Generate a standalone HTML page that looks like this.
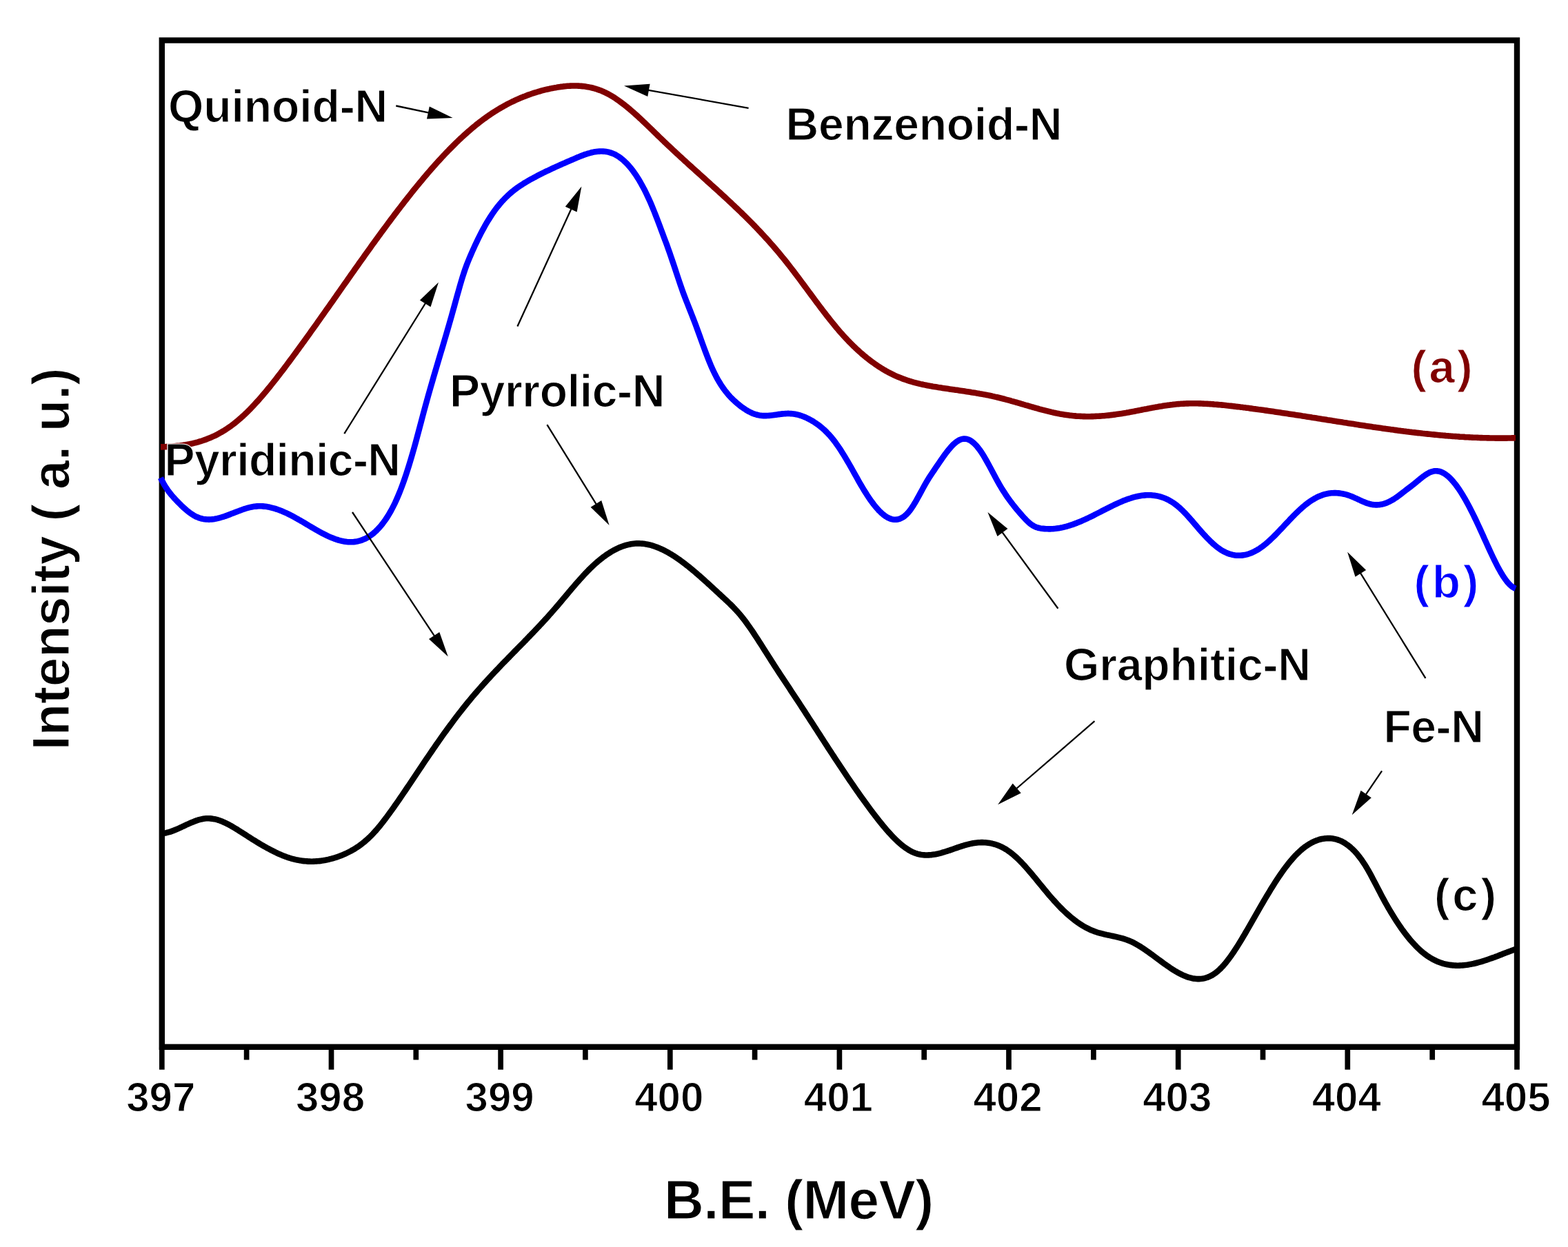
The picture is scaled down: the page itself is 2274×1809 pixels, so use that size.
<!DOCTYPE html><html><head><meta charset="utf-8"><style>html,body{margin:0;padding:0;background:#fff;}svg{display:block;}text{font-family:'Liberation Sans', Arial, Helvetica, sans-serif;font-weight:bold;stroke:#fff;stroke-width:1.2px;}</style></head><body>
<svg xmlns="http://www.w3.org/2000/svg" width="2274" height="1809" viewBox="0 0 2274 1809">
<rect x="0" y="0" width="2274" height="1809" fill="#fff"/>
<rect x="234.8" y="58.5" width="1965.2" height="1460.3" fill="none" stroke="#000" stroke-width="8.4"/>
<line x1="234.8" y1="1519" x2="234.8" y2="1551.7" stroke="#000" stroke-width="7.7"/>
<line x1="357.6" y1="1519" x2="357.6" y2="1537.5" stroke="#000" stroke-width="7.7"/>
<text x="233.3" y="1612" font-size="60" text-anchor="middle">397</text>
<line x1="480.5" y1="1519" x2="480.5" y2="1551.7" stroke="#000" stroke-width="7.7"/>
<line x1="603.3" y1="1519" x2="603.3" y2="1537.5" stroke="#000" stroke-width="7.7"/>
<text x="479.0" y="1612" font-size="60" text-anchor="middle">398</text>
<line x1="726.1" y1="1519" x2="726.1" y2="1551.7" stroke="#000" stroke-width="7.7"/>
<line x1="848.9" y1="1519" x2="848.9" y2="1537.5" stroke="#000" stroke-width="7.7"/>
<text x="724.6" y="1612" font-size="60" text-anchor="middle">399</text>
<line x1="971.8" y1="1519" x2="971.8" y2="1551.7" stroke="#000" stroke-width="7.7"/>
<line x1="1094.6" y1="1519" x2="1094.6" y2="1537.5" stroke="#000" stroke-width="7.7"/>
<text x="970.2" y="1612" font-size="60" text-anchor="middle">400</text>
<line x1="1217.4" y1="1519" x2="1217.4" y2="1551.7" stroke="#000" stroke-width="7.7"/>
<line x1="1340.2" y1="1519" x2="1340.2" y2="1537.5" stroke="#000" stroke-width="7.7"/>
<text x="1215.9" y="1612" font-size="60" text-anchor="middle">401</text>
<line x1="1463.0" y1="1519" x2="1463.0" y2="1551.7" stroke="#000" stroke-width="7.7"/>
<line x1="1585.9" y1="1519" x2="1585.9" y2="1537.5" stroke="#000" stroke-width="7.7"/>
<text x="1461.5" y="1612" font-size="60" text-anchor="middle">402</text>
<line x1="1708.7" y1="1519" x2="1708.7" y2="1551.7" stroke="#000" stroke-width="7.7"/>
<line x1="1831.5" y1="1519" x2="1831.5" y2="1537.5" stroke="#000" stroke-width="7.7"/>
<text x="1707.2" y="1612" font-size="60" text-anchor="middle">403</text>
<line x1="1954.3" y1="1519" x2="1954.3" y2="1551.7" stroke="#000" stroke-width="7.7"/>
<line x1="2077.2" y1="1519" x2="2077.2" y2="1537.5" stroke="#000" stroke-width="7.7"/>
<text x="1952.8" y="1612" font-size="60" text-anchor="middle">404</text>
<line x1="2200.0" y1="1519" x2="2200.0" y2="1551.7" stroke="#000" stroke-width="7.7"/>
<text x="2198.5" y="1612" font-size="60" text-anchor="middle">405</text>
<path d="M233.0,648.4 L235.0,648.4 L237.0,648.3 L239.0,648.2 L241.0,648.1 L243.0,648.0 L245.0,647.9 L247.0,647.8 L249.0,647.7 L251.0,647.5 L253.0,647.3 L255.0,647.1 L257.0,646.9 L259.0,646.7 L261.0,646.5 L263.0,646.2 L265.0,645.9 L267.0,645.6 L269.0,645.3 L271.0,644.9 L273.0,644.6 L275.0,644.2 L277.0,643.8 L279.0,643.3 L281.0,642.8 L283.0,642.4 L285.0,641.8 L287.0,641.3 L289.0,640.7 L291.0,640.1 L293.0,639.5 L295.0,638.8 L297.0,638.1 L299.0,637.4 L301.0,636.6 L303.0,635.8 L305.0,635.0 L307.0,634.1 L309.0,633.2 L311.0,632.3 L313.0,631.3 L315.0,630.3 L317.0,629.2 L319.0,628.1 L321.0,627.0 L323.0,625.8 L325.0,624.6 L327.0,623.3 L329.0,622.0 L331.0,620.7 L333.0,619.3 L335.0,617.9 L337.0,616.4 L339.0,614.9 L341.0,613.3 L343.0,611.7 L345.0,610.0 L347.0,608.3 L349.0,606.6 L351.0,604.8 L353.0,603.0 L355.0,601.1 L357.0,599.2 L359.0,597.2 L361.0,595.2 L363.0,593.2 L365.0,591.1 L367.0,589.0 L369.0,586.9 L371.0,584.7 L373.0,582.5 L375.0,580.3 L377.0,578.0 L379.0,575.7 L381.0,573.4 L383.0,571.0 L385.0,568.7 L387.0,566.3 L389.0,563.8 L391.0,561.4 L393.0,558.9 L395.0,556.4 L397.0,553.9 L399.0,551.4 L401.0,548.8 L403.0,546.2 L405.0,543.6 L407.0,541.0 L409.0,538.4 L411.0,535.8 L413.0,533.1 L415.0,530.5 L417.0,527.8 L419.0,525.1 L421.0,522.4 L423.0,519.7 L425.0,517.0 L427.0,514.3 L429.0,511.6 L431.0,508.8 L433.0,506.1 L435.0,503.3 L437.0,500.6 L439.0,497.8 L441.0,495.1 L443.0,492.3 L445.0,489.5 L447.0,486.7 L449.0,483.9 L451.0,481.1 L453.0,478.3 L455.0,475.5 L457.0,472.7 L459.0,469.9 L461.0,467.1 L463.0,464.3 L465.0,461.4 L467.0,458.6 L469.0,455.8 L471.0,452.9 L473.0,450.1 L475.0,447.2 L477.0,444.4 L479.0,441.6 L481.0,438.7 L483.0,435.9 L485.0,433.0 L487.0,430.2 L489.0,427.3 L491.0,424.5 L493.0,421.6 L495.0,418.8 L497.0,415.9 L499.0,413.1 L501.0,410.2 L503.0,407.4 L505.0,404.5 L507.0,401.7 L509.0,398.8 L511.0,396.0 L513.0,393.2 L515.0,390.3 L517.0,387.5 L519.0,384.7 L521.0,381.8 L523.0,379.0 L525.0,376.2 L527.0,373.4 L529.0,370.6 L531.0,367.8 L533.0,365.0 L535.0,362.2 L537.0,359.4 L539.0,356.6 L541.0,353.8 L543.0,351.1 L545.0,348.3 L547.0,345.6 L549.0,342.8 L551.0,340.1 L553.0,337.3 L555.0,334.6 L557.0,331.9 L559.0,329.2 L561.0,326.5 L563.0,323.8 L565.0,321.1 L567.0,318.4 L569.0,315.7 L571.0,313.1 L573.0,310.4 L575.0,307.8 L577.0,305.2 L579.0,302.6 L581.0,300.0 L583.0,297.4 L585.0,294.8 L587.0,292.2 L589.0,289.7 L591.0,287.1 L593.0,284.6 L595.0,282.1 L597.0,279.5 L599.0,277.0 L601.0,274.6 L603.0,272.1 L605.0,269.6 L607.0,267.2 L609.0,264.8 L611.0,262.4 L613.0,260.0 L615.0,257.6 L617.0,255.2 L619.0,252.9 L621.0,250.5 L623.0,248.2 L625.0,245.9 L627.0,243.6 L629.0,241.4 L631.0,239.1 L633.0,236.9 L635.0,234.7 L637.0,232.5 L639.0,230.3 L641.0,228.1 L643.0,226.0 L645.0,223.9 L647.0,221.8 L649.0,219.7 L651.0,217.6 L653.0,215.6 L655.0,213.6 L657.0,211.6 L659.0,209.6 L661.0,207.6 L663.0,205.7 L665.0,203.7 L667.0,201.8 L669.0,200.0 L671.0,198.1 L673.0,196.3 L675.0,194.5 L677.0,192.7 L679.0,190.9 L681.0,189.2 L683.0,187.5 L685.0,185.8 L687.0,184.1 L689.0,182.5 L691.0,180.8 L693.0,179.3 L695.0,177.7 L697.0,176.1 L699.0,174.6 L701.0,173.1 L703.0,171.7 L705.0,170.2 L707.0,168.8 L709.0,167.4 L711.0,166.1 L713.0,164.7 L715.0,163.4 L717.0,162.1 L719.0,160.9 L721.0,159.6 L723.0,158.4 L725.0,157.2 L727.0,156.0 L729.0,154.9 L731.0,153.8 L733.0,152.7 L735.0,151.6 L737.0,150.5 L739.0,149.5 L741.0,148.5 L743.0,147.5 L745.0,146.6 L747.0,145.6 L749.0,144.7 L751.0,143.8 L753.0,142.9 L755.0,142.1 L757.0,141.3 L759.0,140.4 L761.0,139.7 L763.0,138.9 L765.0,138.1 L767.0,137.4 L769.0,136.7 L771.0,136.0 L773.0,135.3 L775.0,134.7 L777.0,134.1 L779.0,133.5 L781.0,132.9 L783.0,132.3 L785.0,131.7 L787.0,131.2 L789.0,130.7 L791.0,130.2 L793.0,129.7 L795.0,129.3 L797.0,128.8 L799.0,128.4 L801.0,128.0 L803.0,127.6 L805.0,127.2 L807.0,126.9 L809.0,126.5 L811.0,126.2 L813.0,125.9 L815.0,125.7 L817.0,125.4 L819.0,125.2 L821.0,125.0 L823.0,124.8 L825.0,124.7 L827.0,124.6 L829.0,124.5 L831.0,124.5 L833.0,124.5 L835.0,124.5 L837.0,124.5 L839.0,124.6 L841.0,124.7 L843.0,124.9 L845.0,125.1 L847.0,125.3 L849.0,125.6 L851.0,125.9 L853.0,126.2 L855.0,126.6 L857.0,127.0 L859.0,127.5 L861.0,128.0 L863.0,128.6 L865.0,129.2 L867.0,129.9 L869.0,130.6 L871.0,131.3 L873.0,132.1 L875.0,133.0 L877.0,133.9 L879.0,134.9 L881.0,135.9 L883.0,136.9 L885.0,138.1 L887.0,139.2 L889.0,140.4 L891.0,141.7 L893.0,143.0 L895.0,144.4 L897.0,145.8 L899.0,147.2 L901.0,148.7 L903.0,150.2 L905.0,151.7 L907.0,153.3 L909.0,154.9 L911.0,156.6 L913.0,158.2 L915.0,160.0 L917.0,161.7 L919.0,163.4 L921.0,165.2 L923.0,167.0 L925.0,168.8 L927.0,170.7 L929.0,172.5 L931.0,174.4 L933.0,176.3 L935.0,178.2 L937.0,180.1 L939.0,182.0 L941.0,184.0 L943.0,185.9 L945.0,187.8 L947.0,189.8 L949.0,191.7 L951.0,193.7 L953.0,195.6 L955.0,197.6 L957.0,199.5 L959.0,201.4 L961.0,203.3 L963.0,205.3 L965.0,207.2 L967.0,209.1 L969.0,211.0 L971.0,212.8 L973.0,214.7 L975.0,216.6 L977.0,218.5 L979.0,220.3 L981.0,222.2 L983.0,224.0 L985.0,225.9 L987.0,227.7 L989.0,229.5 L991.0,231.4 L993.0,233.2 L995.0,235.0 L997.0,236.9 L999.0,238.7 L1001.0,240.5 L1003.0,242.3 L1005.0,244.1 L1007.0,245.9 L1009.0,247.7 L1011.0,249.5 L1013.0,251.3 L1015.0,253.1 L1017.0,254.9 L1019.0,256.7 L1021.0,258.5 L1023.0,260.3 L1025.0,262.2 L1027.0,264.0 L1029.0,265.8 L1031.0,267.6 L1033.0,269.4 L1035.0,271.2 L1037.0,273.0 L1039.0,274.8 L1041.0,276.6 L1043.0,278.5 L1045.0,280.3 L1047.0,282.1 L1049.0,284.0 L1051.0,285.8 L1053.0,287.6 L1055.0,289.5 L1057.0,291.4 L1059.0,293.2 L1061.0,295.1 L1063.0,297.0 L1065.0,298.9 L1067.0,300.8 L1069.0,302.7 L1071.0,304.6 L1073.0,306.5 L1075.0,308.4 L1077.0,310.4 L1079.0,312.3 L1081.0,314.3 L1083.0,316.3 L1085.0,318.3 L1087.0,320.3 L1089.0,322.3 L1091.0,324.3 L1093.0,326.4 L1095.0,328.4 L1097.0,330.5 L1099.0,332.6 L1101.0,334.7 L1103.0,336.8 L1105.0,339.0 L1107.0,341.1 L1109.0,343.3 L1111.0,345.5 L1113.0,347.7 L1115.0,349.9 L1117.0,352.2 L1119.0,354.5 L1121.0,356.7 L1123.0,359.1 L1125.0,361.4 L1127.0,363.7 L1129.0,366.1 L1131.0,368.5 L1133.0,370.9 L1135.0,373.4 L1137.0,375.8 L1139.0,378.3 L1141.0,380.8 L1143.0,383.4 L1145.0,385.9 L1147.0,388.5 L1149.0,391.1 L1151.0,393.7 L1153.0,396.3 L1155.0,399.0 L1157.0,401.6 L1159.0,404.3 L1161.0,407.0 L1163.0,409.7 L1165.0,412.4 L1167.0,415.1 L1169.0,417.8 L1171.0,420.5 L1173.0,423.2 L1175.0,425.9 L1177.0,428.6 L1179.0,431.3 L1181.0,434.0 L1183.0,436.7 L1185.0,439.4 L1187.0,442.0 L1189.0,444.7 L1191.0,447.4 L1193.0,450.0 L1195.0,452.6 L1197.0,455.2 L1199.0,457.8 L1201.0,460.3 L1203.0,462.9 L1205.0,465.4 L1207.0,467.9 L1209.0,470.3 L1211.0,472.8 L1213.0,475.2 L1215.0,477.5 L1217.0,479.9 L1219.0,482.2 L1221.0,484.4 L1223.0,486.7 L1225.0,488.9 L1227.0,491.0 L1229.0,493.1 L1231.0,495.2 L1233.0,497.3 L1235.0,499.3 L1237.0,501.3 L1239.0,503.2 L1241.0,505.1 L1243.0,507.0 L1245.0,508.8 L1247.0,510.6 L1249.0,512.4 L1251.0,514.1 L1253.0,515.8 L1255.0,517.4 L1257.0,519.1 L1259.0,520.6 L1261.0,522.2 L1263.0,523.7 L1265.0,525.2 L1267.0,526.6 L1269.0,528.1 L1271.0,529.4 L1273.0,530.8 L1275.0,532.1 L1277.0,533.4 L1279.0,534.6 L1281.0,535.9 L1283.0,537.0 L1285.0,538.2 L1287.0,539.3 L1289.0,540.4 L1291.0,541.4 L1293.0,542.4 L1295.0,543.4 L1297.0,544.4 L1299.0,545.3 L1301.0,546.2 L1303.0,547.0 L1305.0,547.8 L1307.0,548.6 L1309.0,549.4 L1311.0,550.1 L1313.0,550.8 L1315.0,551.5 L1317.0,552.2 L1319.0,552.8 L1321.0,553.4 L1323.0,554.0 L1325.0,554.6 L1327.0,555.1 L1329.0,555.6 L1331.0,556.1 L1333.0,556.6 L1335.0,557.1 L1337.0,557.5 L1339.0,558.0 L1341.0,558.4 L1343.0,558.8 L1345.0,559.2 L1347.0,559.6 L1349.0,559.9 L1351.0,560.3 L1353.0,560.7 L1355.0,561.0 L1357.0,561.3 L1359.0,561.6 L1361.0,562.0 L1363.0,562.3 L1365.0,562.6 L1367.0,562.9 L1369.0,563.2 L1371.0,563.5 L1373.0,563.8 L1375.0,564.1 L1377.0,564.4 L1379.0,564.7 L1381.0,565.0 L1383.0,565.3 L1385.0,565.6 L1387.0,565.8 L1389.0,566.1 L1391.0,566.4 L1393.0,566.7 L1395.0,567.0 L1397.0,567.3 L1399.0,567.6 L1401.0,567.9 L1403.0,568.2 L1405.0,568.5 L1407.0,568.8 L1409.0,569.2 L1411.0,569.5 L1413.0,569.8 L1415.0,570.1 L1417.0,570.5 L1419.0,570.8 L1421.0,571.2 L1423.0,571.5 L1425.0,571.9 L1427.0,572.3 L1429.0,572.6 L1431.0,573.0 L1433.0,573.4 L1435.0,573.8 L1437.0,574.2 L1439.0,574.7 L1441.0,575.1 L1443.0,575.6 L1445.0,576.0 L1447.0,576.5 L1449.0,577.0 L1451.0,577.5 L1453.0,578.0 L1455.0,578.5 L1457.0,579.0 L1459.0,579.6 L1461.0,580.1 L1463.0,580.6 L1465.0,581.2 L1467.0,581.8 L1469.0,582.3 L1471.0,582.9 L1473.0,583.5 L1475.0,584.0 L1477.0,584.6 L1479.0,585.2 L1481.0,585.8 L1483.0,586.4 L1485.0,587.0 L1487.0,587.6 L1489.0,588.1 L1491.0,588.7 L1493.0,589.3 L1495.0,589.9 L1497.0,590.5 L1499.0,591.0 L1501.0,591.6 L1503.0,592.2 L1505.0,592.7 L1507.0,593.3 L1509.0,593.8 L1511.0,594.4 L1513.0,594.9 L1515.0,595.4 L1517.0,595.9 L1519.0,596.4 L1521.0,596.9 L1523.0,597.4 L1525.0,597.9 L1527.0,598.3 L1529.0,598.8 L1531.0,599.2 L1533.0,599.6 L1535.0,600.0 L1537.0,600.4 L1539.0,600.7 L1541.0,601.1 L1543.0,601.4 L1545.0,601.7 L1547.0,602.0 L1549.0,602.3 L1551.0,602.6 L1553.0,602.8 L1555.0,603.0 L1557.0,603.2 L1559.0,603.4 L1561.0,603.6 L1563.0,603.7 L1565.0,603.8 L1567.0,603.9 L1569.0,604.0 L1571.0,604.1 L1573.0,604.1 L1575.0,604.2 L1577.0,604.2 L1579.0,604.2 L1581.0,604.2 L1583.0,604.1 L1585.0,604.1 L1587.0,604.0 L1589.0,603.9 L1591.0,603.8 L1593.0,603.7 L1595.0,603.6 L1597.0,603.5 L1599.0,603.3 L1601.0,603.2 L1603.0,603.0 L1605.0,602.8 L1607.0,602.6 L1609.0,602.4 L1611.0,602.1 L1613.0,601.9 L1615.0,601.6 L1617.0,601.4 L1619.0,601.1 L1621.0,600.8 L1623.0,600.5 L1625.0,600.2 L1627.0,599.9 L1629.0,599.6 L1631.0,599.2 L1633.0,598.9 L1635.0,598.5 L1637.0,598.2 L1639.0,597.8 L1641.0,597.4 L1643.0,597.1 L1645.0,596.7 L1647.0,596.3 L1649.0,595.9 L1651.0,595.5 L1653.0,595.1 L1655.0,594.7 L1657.0,594.3 L1659.0,593.9 L1661.0,593.5 L1663.0,593.2 L1665.0,592.8 L1667.0,592.4 L1669.0,592.0 L1671.0,591.6 L1673.0,591.3 L1675.0,590.9 L1677.0,590.5 L1679.0,590.2 L1681.0,589.8 L1683.0,589.5 L1685.0,589.2 L1687.0,588.8 L1689.0,588.5 L1691.0,588.2 L1693.0,587.9 L1695.0,587.7 L1697.0,587.4 L1699.0,587.2 L1701.0,586.9 L1703.0,586.7 L1705.0,586.5 L1707.0,586.3 L1709.0,586.1 L1711.0,586.0 L1713.0,585.8 L1715.0,585.7 L1717.0,585.6 L1719.0,585.5 L1721.0,585.4 L1723.0,585.4 L1725.0,585.3 L1727.0,585.3 L1729.0,585.3 L1731.0,585.3 L1733.0,585.3 L1735.0,585.3 L1737.0,585.3 L1739.0,585.4 L1741.0,585.4 L1743.0,585.5 L1745.0,585.6 L1747.0,585.7 L1749.0,585.8 L1751.0,585.9 L1753.0,586.0 L1755.0,586.1 L1757.0,586.3 L1759.0,586.4 L1761.0,586.6 L1763.0,586.7 L1765.0,586.9 L1767.0,587.1 L1769.0,587.3 L1771.0,587.4 L1773.0,587.6 L1775.0,587.8 L1777.0,588.0 L1779.0,588.3 L1781.0,588.5 L1783.0,588.7 L1785.0,588.9 L1787.0,589.1 L1789.0,589.4 L1791.0,589.6 L1793.0,589.9 L1795.0,590.1 L1797.0,590.3 L1799.0,590.6 L1801.0,590.8 L1803.0,591.1 L1805.0,591.3 L1807.0,591.6 L1809.0,591.8 L1811.0,592.1 L1813.0,592.4 L1815.0,592.6 L1817.0,592.9 L1819.0,593.2 L1821.0,593.4 L1823.0,593.7 L1825.0,594.0 L1827.0,594.2 L1829.0,594.5 L1831.0,594.8 L1833.0,595.1 L1835.0,595.4 L1837.0,595.6 L1839.0,595.9 L1841.0,596.2 L1843.0,596.5 L1845.0,596.8 L1847.0,597.1 L1849.0,597.4 L1851.0,597.7 L1853.0,598.0 L1855.0,598.3 L1857.0,598.6 L1859.0,598.9 L1861.0,599.2 L1863.0,599.5 L1865.0,599.8 L1867.0,600.1 L1869.0,600.4 L1871.0,600.7 L1873.0,601.0 L1875.0,601.3 L1877.0,601.6 L1879.0,601.9 L1881.0,602.2 L1883.0,602.5 L1885.0,602.8 L1887.0,603.1 L1889.0,603.5 L1891.0,603.8 L1893.0,604.1 L1895.0,604.4 L1897.0,604.7 L1899.0,605.0 L1901.0,605.3 L1903.0,605.7 L1905.0,606.0 L1907.0,606.3 L1909.0,606.6 L1911.0,606.9 L1913.0,607.2 L1915.0,607.6 L1917.0,607.9 L1919.0,608.2 L1921.0,608.5 L1923.0,608.8 L1925.0,609.2 L1927.0,609.5 L1929.0,609.8 L1931.0,610.1 L1933.0,610.4 L1935.0,610.7 L1937.0,611.1 L1939.0,611.4 L1941.0,611.7 L1943.0,612.0 L1945.0,612.3 L1947.0,612.6 L1949.0,613.0 L1951.0,613.3 L1953.0,613.6 L1955.0,613.9 L1957.0,614.2 L1959.0,614.5 L1961.0,614.8 L1963.0,615.1 L1965.0,615.4 L1967.0,615.8 L1969.0,616.1 L1971.0,616.4 L1973.0,616.7 L1975.0,617.0 L1977.0,617.3 L1979.0,617.6 L1981.0,617.9 L1983.0,618.2 L1985.0,618.5 L1987.0,618.8 L1989.0,619.1 L1991.0,619.4 L1993.0,619.7 L1995.0,619.9 L1997.0,620.2 L1999.0,620.5 L2001.0,620.8 L2003.0,621.1 L2005.0,621.4 L2007.0,621.7 L2009.0,621.9 L2011.0,622.2 L2013.0,622.5 L2015.0,622.8 L2017.0,623.1 L2019.0,623.3 L2021.0,623.6 L2023.0,623.9 L2025.0,624.1 L2027.0,624.4 L2029.0,624.7 L2031.0,624.9 L2033.0,625.2 L2035.0,625.4 L2037.0,625.7 L2039.0,625.9 L2041.0,626.2 L2043.0,626.4 L2045.0,626.7 L2047.0,626.9 L2049.0,627.2 L2051.0,627.4 L2053.0,627.6 L2055.0,627.9 L2057.0,628.1 L2059.0,628.3 L2061.0,628.5 L2063.0,628.8 L2065.0,629.0 L2067.0,629.2 L2069.0,629.4 L2071.0,629.6 L2073.0,629.8 L2075.0,630.0 L2077.0,630.2 L2079.0,630.4 L2081.0,630.6 L2083.0,630.8 L2085.0,631.0 L2087.0,631.2 L2089.0,631.4 L2091.0,631.5 L2093.0,631.7 L2095.0,631.9 L2097.0,632.1 L2099.0,632.2 L2101.0,632.4 L2103.0,632.5 L2105.0,632.7 L2107.0,632.9 L2109.0,633.0 L2111.0,633.1 L2113.0,633.3 L2115.0,633.4 L2117.0,633.6 L2119.0,633.7 L2121.0,633.8 L2123.0,633.9 L2125.0,634.1 L2127.0,634.2 L2129.0,634.3 L2131.0,634.4 L2133.0,634.5 L2135.0,634.6 L2137.0,634.7 L2139.0,634.8 L2141.0,634.8 L2143.0,634.9 L2145.0,635.0 L2147.0,635.1 L2149.0,635.1 L2151.0,635.2 L2153.0,635.3 L2155.0,635.3 L2157.0,635.4 L2159.0,635.4 L2161.0,635.5 L2163.0,635.5 L2165.0,635.5 L2167.0,635.5 L2169.0,635.6 L2171.0,635.6 L2173.0,635.6 L2175.0,635.6 L2177.0,635.6 L2179.0,635.6 L2181.0,635.6 L2183.0,635.6 L2185.0,635.6 L2187.0,635.5 L2189.0,635.5 L2191.0,635.5 L2193.0,635.4 L2195.0,635.4 L2197.0,635.3 L2198.0,635.3" fill="none" stroke="#800000" stroke-width="8.6" stroke-linejoin="round"/>
<path d="M233.0,693.1 L235.0,697.3 L237.0,701.1 L239.0,704.5 L241.0,707.7 L243.0,710.7 L245.0,713.5 L247.0,716.0 L249.0,718.5 L251.0,720.8 L253.0,723.0 L255.0,725.1 L257.0,727.2 L259.0,729.3 L261.0,731.3 L263.0,733.3 L265.0,735.2 L267.0,737.0 L269.0,738.8 L271.0,740.5 L273.0,742.1 L275.0,743.7 L277.0,745.1 L279.0,746.4 L281.0,747.7 L283.0,748.8 L285.0,749.8 L287.0,750.6 L289.0,751.4 L291.0,752.0 L293.0,752.5 L295.0,752.9 L297.0,753.2 L299.0,753.4 L301.0,753.5 L303.0,753.6 L305.0,753.5 L307.0,753.4 L309.0,753.2 L311.0,752.9 L313.0,752.5 L315.0,752.1 L317.0,751.6 L319.0,751.1 L321.0,750.5 L323.0,749.9 L325.0,749.3 L327.0,748.6 L329.0,747.9 L331.0,747.1 L333.0,746.4 L335.0,745.6 L337.0,744.8 L339.0,744.1 L341.0,743.3 L343.0,742.5 L345.0,741.7 L347.0,741.0 L349.0,740.2 L351.0,739.5 L353.0,738.8 L355.0,738.1 L357.0,737.5 L359.0,736.9 L361.0,736.4 L363.0,735.9 L365.0,735.5 L367.0,735.1 L369.0,734.8 L371.0,734.6 L373.0,734.4 L375.0,734.3 L377.0,734.3 L379.0,734.3 L381.0,734.4 L383.0,734.6 L385.0,734.8 L387.0,735.1 L389.0,735.4 L391.0,735.8 L393.0,736.3 L395.0,736.8 L397.0,737.3 L399.0,737.9 L401.0,738.6 L403.0,739.3 L405.0,740.0 L407.0,740.8 L409.0,741.6 L411.0,742.4 L413.0,743.3 L415.0,744.2 L417.0,745.1 L419.0,746.1 L421.0,747.1 L423.0,748.2 L425.0,749.2 L427.0,750.3 L429.0,751.4 L431.0,752.5 L433.0,753.7 L435.0,754.8 L437.0,756.0 L439.0,757.1 L441.0,758.3 L443.0,759.5 L445.0,760.7 L447.0,761.9 L449.0,763.1 L451.0,764.3 L453.0,765.5 L455.0,766.6 L457.0,767.8 L459.0,768.9 L461.0,770.1 L463.0,771.2 L465.0,772.3 L467.0,773.4 L469.0,774.4 L471.0,775.4 L473.0,776.4 L475.0,777.4 L477.0,778.3 L479.0,779.2 L481.0,780.0 L483.0,780.8 L485.0,781.6 L487.0,782.3 L489.0,782.9 L491.0,783.6 L493.0,784.1 L495.0,784.6 L497.0,785.1 L499.0,785.4 L501.0,785.7 L503.0,786.0 L505.0,786.2 L507.0,786.3 L509.0,786.3 L511.0,786.2 L513.0,786.1 L515.0,785.9 L517.0,785.6 L519.0,785.2 L521.0,784.7 L523.0,784.1 L525.0,783.4 L527.0,782.6 L529.0,781.8 L531.0,780.8 L533.0,779.7 L535.0,778.4 L537.0,777.1 L539.0,775.7 L541.0,774.1 L543.0,772.4 L545.0,770.6 L547.0,768.6 L549.0,766.5 L551.0,764.3 L553.0,762.0 L555.0,759.5 L557.0,756.8 L559.0,754.0 L561.0,751.0 L563.0,747.9 L565.0,744.5 L567.0,741.0 L569.0,737.3 L571.0,733.4 L573.0,729.3 L575.0,724.9 L577.0,720.3 L579.0,715.5 L581.0,710.5 L583.0,705.2 L585.0,699.7 L587.0,694.0 L589.0,688.1 L591.0,681.9 L593.0,675.6 L595.0,669.1 L597.0,662.3 L599.0,655.4 L601.0,648.4 L603.0,641.1 L605.0,633.7 L607.0,626.2 L609.0,618.7 L611.0,611.1 L613.0,603.5 L615.0,596.0 L617.0,588.6 L619.0,581.4 L621.0,574.2 L623.0,567.1 L625.0,560.1 L627.0,553.2 L629.0,546.3 L631.0,539.5 L633.0,532.8 L635.0,526.1 L637.0,519.3 L639.0,512.6 L641.0,505.9 L643.0,499.2 L645.0,492.4 L647.0,485.6 L649.0,478.8 L651.0,471.9 L653.0,464.9 L655.0,457.9 L657.0,450.7 L659.0,443.5 L661.0,436.2 L663.0,428.9 L665.0,421.8 L667.0,414.7 L669.0,407.9 L671.0,401.3 L673.0,395.1 L675.0,389.2 L677.0,383.8 L679.0,378.7 L681.0,373.9 L683.0,369.2 L685.0,364.6 L687.0,360.2 L689.0,355.8 L691.0,351.6 L693.0,347.4 L695.0,343.4 L697.0,339.4 L699.0,335.6 L701.0,331.9 L703.0,328.2 L705.0,324.7 L707.0,321.3 L709.0,318.1 L711.0,314.9 L713.0,311.8 L715.0,308.9 L717.0,306.0 L719.0,303.3 L721.0,300.7 L723.0,298.2 L725.0,295.8 L727.0,293.4 L729.0,291.2 L731.0,289.1 L733.0,287.0 L735.0,285.1 L737.0,283.2 L739.0,281.3 L741.0,279.6 L743.0,277.9 L745.0,276.3 L747.0,274.8 L749.0,273.3 L751.0,271.8 L753.0,270.4 L755.0,269.1 L757.0,267.8 L759.0,266.5 L761.0,265.3 L763.0,264.1 L765.0,262.9 L767.0,261.7 L769.0,260.6 L771.0,259.5 L773.0,258.4 L775.0,257.3 L777.0,256.3 L779.0,255.2 L781.0,254.2 L783.0,253.2 L785.0,252.1 L787.0,251.1 L789.0,250.2 L791.0,249.2 L793.0,248.2 L795.0,247.3 L797.0,246.3 L799.0,245.4 L801.0,244.4 L803.0,243.5 L805.0,242.6 L807.0,241.7 L809.0,240.8 L811.0,239.9 L813.0,239.0 L815.0,238.1 L817.0,237.2 L819.0,236.4 L821.0,235.5 L823.0,234.6 L825.0,233.8 L827.0,232.9 L829.0,232.0 L831.0,231.2 L833.0,230.3 L835.0,229.4 L837.0,228.6 L839.0,227.8 L841.0,226.9 L843.0,226.1 L845.0,225.4 L847.0,224.6 L849.0,223.9 L851.0,223.3 L853.0,222.6 L855.0,222.1 L857.0,221.5 L859.0,221.0 L861.0,220.6 L863.0,220.3 L865.0,220.0 L867.0,219.7 L869.0,219.6 L871.0,219.5 L873.0,219.5 L875.0,219.6 L877.0,219.7 L879.0,220.0 L881.0,220.4 L883.0,220.8 L885.0,221.4 L887.0,222.1 L889.0,222.8 L891.0,223.7 L893.0,224.7 L895.0,225.9 L897.0,227.1 L899.0,228.5 L901.0,230.0 L903.0,231.6 L905.0,233.4 L907.0,235.3 L909.0,237.3 L911.0,239.4 L913.0,241.7 L915.0,244.1 L917.0,246.7 L919.0,249.4 L921.0,252.2 L923.0,255.2 L925.0,258.3 L927.0,261.6 L929.0,265.0 L931.0,268.6 L933.0,272.3 L935.0,276.1 L937.0,280.1 L939.0,284.3 L941.0,288.6 L943.0,293.1 L945.0,297.8 L947.0,302.6 L949.0,307.5 L951.0,312.6 L953.0,317.8 L955.0,323.0 L957.0,328.3 L959.0,333.7 L961.0,339.0 L963.0,344.4 L965.0,349.7 L967.0,355.1 L969.0,360.7 L971.0,366.3 L973.0,372.1 L975.0,378.0 L977.0,383.9 L979.0,389.9 L981.0,396.0 L983.0,402.0 L985.0,408.0 L987.0,413.9 L989.0,419.6 L991.0,425.2 L993.0,430.5 L995.0,435.7 L997.0,440.8 L999.0,445.8 L1001.0,450.9 L1003.0,456.0 L1005.0,461.1 L1007.0,466.3 L1009.0,471.6 L1011.0,477.0 L1013.0,482.5 L1015.0,488.0 L1017.0,493.6 L1019.0,499.1 L1021.0,504.6 L1023.0,510.0 L1025.0,515.3 L1027.0,520.4 L1029.0,525.4 L1031.0,530.2 L1033.0,534.7 L1035.0,539.0 L1037.0,543.1 L1039.0,546.9 L1041.0,550.6 L1043.0,554.0 L1045.0,557.3 L1047.0,560.3 L1049.0,563.2 L1051.0,566.0 L1053.0,568.6 L1055.0,571.0 L1057.0,573.4 L1059.0,575.6 L1061.0,577.7 L1063.0,579.6 L1065.0,581.5 L1067.0,583.3 L1069.0,585.1 L1071.0,586.7 L1073.0,588.3 L1075.0,589.9 L1077.0,591.3 L1079.0,592.7 L1081.0,594.0 L1083.0,595.3 L1085.0,596.4 L1087.0,597.5 L1089.0,598.5 L1091.0,599.4 L1093.0,600.2 L1095.0,600.9 L1097.0,601.5 L1099.0,602.0 L1101.0,602.4 L1103.0,602.7 L1105.0,603.0 L1107.0,603.1 L1109.0,603.1 L1111.0,603.1 L1113.0,603.0 L1115.0,602.9 L1117.0,602.7 L1119.0,602.5 L1121.0,602.3 L1123.0,602.0 L1125.0,601.7 L1127.0,601.4 L1129.0,601.1 L1131.0,600.9 L1133.0,600.6 L1135.0,600.4 L1137.0,600.2 L1139.0,600.1 L1141.0,600.0 L1143.0,599.9 L1145.0,600.0 L1147.0,600.1 L1149.0,600.3 L1151.0,600.5 L1153.0,600.8 L1155.0,601.2 L1157.0,601.7 L1159.0,602.2 L1161.0,602.8 L1163.0,603.5 L1165.0,604.2 L1167.0,605.0 L1169.0,605.9 L1171.0,606.8 L1173.0,607.8 L1175.0,608.9 L1177.0,610.0 L1179.0,611.2 L1181.0,612.5 L1183.0,613.8 L1185.0,615.2 L1187.0,616.6 L1189.0,618.2 L1191.0,619.8 L1193.0,621.5 L1195.0,623.2 L1197.0,625.1 L1199.0,627.1 L1201.0,629.2 L1203.0,631.3 L1205.0,633.6 L1207.0,636.0 L1209.0,638.5 L1211.0,641.1 L1213.0,643.9 L1215.0,646.7 L1217.0,649.6 L1219.0,652.7 L1221.0,655.8 L1223.0,659.0 L1225.0,662.2 L1227.0,665.6 L1229.0,669.0 L1231.0,672.4 L1233.0,675.9 L1235.0,679.4 L1237.0,683.0 L1239.0,686.6 L1241.0,690.1 L1243.0,693.7 L1245.0,697.3 L1247.0,700.8 L1249.0,704.2 L1251.0,707.6 L1253.0,710.9 L1255.0,714.1 L1257.0,717.3 L1259.0,720.3 L1261.0,723.3 L1263.0,726.2 L1265.0,728.9 L1267.0,731.6 L1269.0,734.1 L1271.0,736.5 L1273.0,738.8 L1275.0,741.0 L1277.0,742.9 L1279.0,744.8 L1281.0,746.5 L1283.0,748.0 L1285.0,749.4 L1287.0,750.6 L1289.0,751.6 L1291.0,752.4 L1293.0,753.1 L1295.0,753.5 L1297.0,753.8 L1299.0,753.8 L1301.0,753.6 L1303.0,753.2 L1305.0,752.6 L1307.0,751.7 L1309.0,750.6 L1311.0,749.3 L1313.0,747.7 L1315.0,745.8 L1317.0,743.7 L1319.0,741.3 L1321.0,738.7 L1323.0,735.7 L1325.0,732.6 L1327.0,729.3 L1329.0,725.8 L1331.0,722.2 L1333.0,718.6 L1335.0,714.9 L1337.0,711.2 L1339.0,707.5 L1341.0,703.9 L1343.0,700.4 L1345.0,697.0 L1347.0,693.7 L1349.0,690.6 L1351.0,687.6 L1353.0,684.6 L1355.0,681.7 L1357.0,678.7 L1359.0,675.8 L1361.0,672.8 L1363.0,669.9 L1365.0,667.0 L1367.0,664.1 L1369.0,661.3 L1371.0,658.5 L1373.0,655.9 L1375.0,653.3 L1377.0,650.9 L1379.0,648.6 L1381.0,646.4 L1383.0,644.4 L1385.0,642.7 L1387.0,641.1 L1389.0,639.7 L1391.0,638.5 L1393.0,637.6 L1395.0,637.0 L1397.0,636.6 L1399.0,636.5 L1401.0,636.7 L1403.0,637.2 L1405.0,637.9 L1407.0,638.9 L1409.0,640.2 L1411.0,641.7 L1413.0,643.5 L1415.0,645.5 L1417.0,647.7 L1419.0,650.2 L1421.0,652.8 L1423.0,655.7 L1425.0,658.8 L1427.0,662.1 L1429.0,665.5 L1431.0,669.0 L1433.0,672.6 L1435.0,676.3 L1437.0,680.0 L1439.0,683.8 L1441.0,687.5 L1443.0,691.3 L1445.0,695.0 L1447.0,698.6 L1449.0,702.2 L1451.0,705.6 L1453.0,708.9 L1455.0,712.1 L1457.0,715.2 L1459.0,718.3 L1461.0,721.2 L1463.0,724.0 L1465.0,726.7 L1467.0,729.4 L1469.0,732.0 L1471.0,734.5 L1473.0,737.0 L1475.0,739.4 L1477.0,741.8 L1479.0,744.1 L1481.0,746.4 L1483.0,748.7 L1485.0,750.9 L1487.0,753.0 L1489.0,755.1 L1491.0,757.0 L1493.0,758.8 L1495.0,760.4 L1497.0,761.8 L1499.0,763.0 L1501.0,764.1 L1503.0,764.9 L1505.0,765.5 L1507.0,766.0 L1509.0,766.4 L1511.0,766.7 L1513.0,766.9 L1515.0,767.1 L1517.0,767.3 L1519.0,767.3 L1521.0,767.4 L1523.0,767.4 L1525.0,767.3 L1527.0,767.2 L1529.0,767.0 L1531.0,766.8 L1533.0,766.5 L1535.0,766.2 L1537.0,765.9 L1539.0,765.5 L1541.0,765.1 L1543.0,764.6 L1545.0,764.1 L1547.0,763.6 L1549.0,763.0 L1551.0,762.4 L1553.0,761.7 L1555.0,761.1 L1557.0,760.4 L1559.0,759.6 L1561.0,758.9 L1563.0,758.1 L1565.0,757.3 L1567.0,756.5 L1569.0,755.6 L1571.0,754.7 L1573.0,753.8 L1575.0,752.9 L1577.0,752.0 L1579.0,751.0 L1581.0,750.0 L1583.0,749.1 L1585.0,748.1 L1587.0,747.1 L1589.0,746.0 L1591.0,745.0 L1593.0,744.0 L1595.0,743.0 L1597.0,741.9 L1599.0,740.9 L1601.0,739.9 L1603.0,738.9 L1605.0,737.8 L1607.0,736.8 L1609.0,735.8 L1611.0,734.8 L1613.0,733.8 L1615.0,732.9 L1617.0,731.9 L1619.0,731.0 L1621.0,730.1 L1623.0,729.2 L1625.0,728.3 L1627.0,727.4 L1629.0,726.6 L1631.0,725.8 L1633.0,725.1 L1635.0,724.3 L1637.0,723.6 L1639.0,723.0 L1641.0,722.3 L1643.0,721.7 L1645.0,721.2 L1647.0,720.7 L1649.0,720.2 L1651.0,719.8 L1653.0,719.4 L1655.0,719.1 L1657.0,718.8 L1659.0,718.6 L1661.0,718.4 L1663.0,718.3 L1665.0,718.3 L1667.0,718.3 L1669.0,718.3 L1671.0,718.5 L1673.0,718.7 L1675.0,718.9 L1677.0,719.2 L1679.0,719.6 L1681.0,720.1 L1683.0,720.7 L1685.0,721.3 L1687.0,722.0 L1689.0,722.7 L1691.0,723.6 L1693.0,724.5 L1695.0,725.6 L1697.0,726.7 L1699.0,727.9 L1701.0,729.1 L1703.0,730.5 L1705.0,732.0 L1707.0,733.5 L1709.0,735.2 L1711.0,736.9 L1713.0,738.8 L1715.0,740.7 L1717.0,742.7 L1719.0,744.8 L1721.0,746.9 L1723.0,749.1 L1725.0,751.4 L1727.0,753.6 L1729.0,755.9 L1731.0,758.3 L1733.0,760.6 L1735.0,762.9 L1737.0,765.3 L1739.0,767.6 L1741.0,769.9 L1743.0,772.1 L1745.0,774.4 L1747.0,776.5 L1749.0,778.7 L1751.0,780.8 L1753.0,782.8 L1755.0,784.8 L1757.0,786.7 L1759.0,788.6 L1761.0,790.3 L1763.0,792.0 L1765.0,793.6 L1767.0,795.1 L1769.0,796.5 L1771.0,797.9 L1773.0,799.1 L1775.0,800.2 L1777.0,801.2 L1779.0,802.1 L1781.0,802.9 L1783.0,803.6 L1785.0,804.2 L1787.0,804.7 L1789.0,805.1 L1791.0,805.5 L1793.0,805.7 L1795.0,805.8 L1797.0,805.8 L1799.0,805.8 L1801.0,805.6 L1803.0,805.4 L1805.0,805.0 L1807.0,804.6 L1809.0,804.1 L1811.0,803.5 L1813.0,802.8 L1815.0,802.0 L1817.0,801.1 L1819.0,800.2 L1821.0,799.1 L1823.0,798.0 L1825.0,796.8 L1827.0,795.5 L1829.0,794.1 L1831.0,792.7 L1833.0,791.1 L1835.0,789.5 L1837.0,787.9 L1839.0,786.1 L1841.0,784.3 L1843.0,782.4 L1845.0,780.5 L1847.0,778.6 L1849.0,776.6 L1851.0,774.6 L1853.0,772.5 L1855.0,770.4 L1857.0,768.3 L1859.0,766.2 L1861.0,764.1 L1863.0,761.9 L1865.0,759.8 L1867.0,757.7 L1869.0,755.6 L1871.0,753.4 L1873.0,751.4 L1875.0,749.3 L1877.0,747.2 L1879.0,745.2 L1881.0,743.3 L1883.0,741.4 L1885.0,739.5 L1887.0,737.7 L1889.0,735.9 L1891.0,734.2 L1893.0,732.5 L1895.0,731.0 L1897.0,729.5 L1899.0,728.0 L1901.0,726.7 L1903.0,725.4 L1905.0,724.2 L1907.0,723.0 L1909.0,721.9 L1911.0,720.9 L1913.0,720.0 L1915.0,719.2 L1917.0,718.4 L1919.0,717.7 L1921.0,717.1 L1923.0,716.6 L1925.0,716.2 L1927.0,715.8 L1929.0,715.5 L1931.0,715.3 L1933.0,715.2 L1935.0,715.1 L1937.0,715.1 L1939.0,715.2 L1941.0,715.4 L1943.0,715.6 L1945.0,715.9 L1947.0,716.3 L1949.0,716.7 L1951.0,717.2 L1953.0,717.7 L1955.0,718.3 L1957.0,719.0 L1959.0,719.7 L1961.0,720.5 L1963.0,721.4 L1965.0,722.3 L1967.0,723.2 L1969.0,724.1 L1971.0,725.0 L1973.0,726.0 L1975.0,726.9 L1977.0,727.8 L1979.0,728.6 L1981.0,729.4 L1983.0,730.1 L1985.0,730.7 L1987.0,731.3 L1989.0,731.7 L1991.0,732.1 L1993.0,732.3 L1995.0,732.4 L1997.0,732.4 L1999.0,732.3 L2001.0,732.1 L2003.0,731.8 L2005.0,731.3 L2007.0,730.8 L2009.0,730.2 L2011.0,729.4 L2013.0,728.6 L2015.0,727.7 L2017.0,726.6 L2019.0,725.5 L2021.0,724.3 L2023.0,723.0 L2025.0,721.7 L2027.0,720.2 L2029.0,718.8 L2031.0,717.2 L2033.0,715.7 L2035.0,714.1 L2037.0,712.6 L2039.0,711.0 L2041.0,709.5 L2043.0,708.0 L2045.0,706.5 L2047.0,705.0 L2049.0,703.4 L2051.0,701.8 L2053.0,700.2 L2055.0,698.5 L2057.0,696.9 L2059.0,695.2 L2061.0,693.6 L2063.0,692.0 L2065.0,690.6 L2067.0,689.1 L2069.0,687.8 L2071.0,686.7 L2073.0,685.6 L2075.0,684.8 L2077.0,684.1 L2079.0,683.6 L2081.0,683.3 L2083.0,683.2 L2085.0,683.4 L2087.0,683.7 L2089.0,684.3 L2091.0,685.1 L2093.0,686.1 L2095.0,687.2 L2097.0,688.6 L2099.0,690.1 L2101.0,691.8 L2103.0,693.7 L2105.0,695.8 L2107.0,698.0 L2109.0,700.4 L2111.0,702.9 L2113.0,705.6 L2115.0,708.4 L2117.0,711.4 L2119.0,714.5 L2121.0,717.7 L2123.0,721.1 L2125.0,724.5 L2127.0,728.1 L2129.0,731.8 L2131.0,735.6 L2133.0,739.4 L2135.0,743.4 L2137.0,747.4 L2139.0,751.5 L2141.0,755.7 L2143.0,760.0 L2145.0,764.3 L2147.0,768.6 L2149.0,773.0 L2151.0,777.4 L2153.0,781.9 L2155.0,786.3 L2157.0,790.7 L2159.0,795.1 L2161.0,799.5 L2163.0,803.8 L2165.0,808.0 L2167.0,812.2 L2169.0,816.2 L2171.0,820.1 L2173.0,823.9 L2175.0,827.5 L2177.0,831.0 L2179.0,834.3 L2181.0,837.4 L2183.0,840.3 L2185.0,843.0 L2187.0,845.4 L2189.0,847.6 L2191.0,849.5 L2193.0,851.1 L2195.0,852.4 L2197.0,853.4 L2198.0,853.8" fill="none" stroke="#0000ff" stroke-width="8.6" stroke-linejoin="round"/>
<path d="M235.0,1209.1 L237.0,1208.9 L239.0,1208.6 L241.0,1208.2 L243.0,1207.7 L245.0,1207.2 L247.0,1206.6 L249.0,1205.9 L251.0,1205.1 L253.0,1204.4 L255.0,1203.5 L257.0,1202.7 L259.0,1201.8 L261.0,1200.9 L263.0,1200.0 L265.0,1199.0 L267.0,1198.1 L269.0,1197.1 L271.0,1196.2 L273.0,1195.3 L275.0,1194.4 L277.0,1193.5 L279.0,1192.7 L281.0,1191.9 L283.0,1191.1 L285.0,1190.4 L287.0,1189.7 L289.0,1189.1 L291.0,1188.6 L293.0,1188.2 L295.0,1187.8 L297.0,1187.5 L299.0,1187.3 L301.0,1187.2 L303.0,1187.3 L305.0,1187.4 L307.0,1187.6 L309.0,1187.9 L311.0,1188.2 L313.0,1188.7 L315.0,1189.2 L317.0,1189.8 L319.0,1190.5 L321.0,1191.3 L323.0,1192.1 L325.0,1193.0 L327.0,1193.9 L329.0,1194.9 L331.0,1195.9 L333.0,1196.9 L335.0,1198.0 L337.0,1199.2 L339.0,1200.4 L341.0,1201.6 L343.0,1202.8 L345.0,1204.0 L347.0,1205.3 L349.0,1206.6 L351.0,1207.8 L353.0,1209.1 L355.0,1210.4 L357.0,1211.7 L359.0,1213.0 L361.0,1214.3 L363.0,1215.5 L365.0,1216.8 L367.0,1218.1 L369.0,1219.3 L371.0,1220.5 L373.0,1221.8 L375.0,1223.0 L377.0,1224.2 L379.0,1225.4 L381.0,1226.5 L383.0,1227.7 L385.0,1228.8 L387.0,1229.9 L389.0,1231.0 L391.0,1232.1 L393.0,1233.2 L395.0,1234.2 L397.0,1235.2 L399.0,1236.2 L401.0,1237.1 L403.0,1238.1 L405.0,1239.0 L407.0,1239.8 L409.0,1240.7 L411.0,1241.5 L413.0,1242.2 L415.0,1243.0 L417.0,1243.7 L419.0,1244.4 L421.0,1245.0 L423.0,1245.6 L425.0,1246.1 L427.0,1246.6 L429.0,1247.1 L431.0,1247.5 L433.0,1247.9 L435.0,1248.3 L437.0,1248.6 L439.0,1248.9 L441.0,1249.1 L443.0,1249.3 L445.0,1249.4 L447.0,1249.6 L449.0,1249.6 L451.0,1249.7 L453.0,1249.7 L455.0,1249.6 L457.0,1249.5 L459.0,1249.4 L461.0,1249.3 L463.0,1249.1 L465.0,1248.9 L467.0,1248.6 L469.0,1248.3 L471.0,1247.9 L473.0,1247.6 L475.0,1247.1 L477.0,1246.7 L479.0,1246.2 L481.0,1245.7 L483.0,1245.1 L485.0,1244.5 L487.0,1243.9 L489.0,1243.2 L491.0,1242.5 L493.0,1241.8 L495.0,1241.0 L497.0,1240.2 L499.0,1239.3 L501.0,1238.5 L503.0,1237.5 L505.0,1236.5 L507.0,1235.5 L509.0,1234.5 L511.0,1233.3 L513.0,1232.2 L515.0,1231.0 L517.0,1229.7 L519.0,1228.4 L521.0,1227.0 L523.0,1225.5 L525.0,1224.0 L527.0,1222.4 L529.0,1220.8 L531.0,1219.0 L533.0,1217.3 L535.0,1215.4 L537.0,1213.5 L539.0,1211.5 L541.0,1209.4 L543.0,1207.2 L545.0,1205.0 L547.0,1202.7 L549.0,1200.3 L551.0,1197.9 L553.0,1195.4 L555.0,1192.8 L557.0,1190.3 L559.0,1187.6 L561.0,1185.0 L563.0,1182.3 L565.0,1179.5 L567.0,1176.8 L569.0,1174.0 L571.0,1171.2 L573.0,1168.3 L575.0,1165.5 L577.0,1162.6 L579.0,1159.7 L581.0,1156.8 L583.0,1153.9 L585.0,1150.9 L587.0,1148.0 L589.0,1145.0 L591.0,1142.0 L593.0,1139.1 L595.0,1136.1 L597.0,1133.1 L599.0,1130.1 L601.0,1127.1 L603.0,1124.1 L605.0,1121.1 L607.0,1118.1 L609.0,1115.1 L611.0,1112.2 L613.0,1109.2 L615.0,1106.2 L617.0,1103.2 L619.0,1100.3 L621.0,1097.3 L623.0,1094.4 L625.0,1091.5 L627.0,1088.5 L629.0,1085.6 L631.0,1082.7 L633.0,1079.8 L635.0,1077.0 L637.0,1074.1 L639.0,1071.3 L641.0,1068.4 L643.0,1065.6 L645.0,1062.8 L647.0,1060.1 L649.0,1057.3 L651.0,1054.6 L653.0,1051.9 L655.0,1049.2 L657.0,1046.5 L659.0,1043.8 L661.0,1041.2 L663.0,1038.5 L665.0,1035.9 L667.0,1033.4 L669.0,1030.8 L671.0,1028.3 L673.0,1025.8 L675.0,1023.3 L677.0,1020.8 L679.0,1018.3 L681.0,1015.9 L683.0,1013.5 L685.0,1011.1 L687.0,1008.7 L689.0,1006.4 L691.0,1004.1 L693.0,1001.8 L695.0,999.5 L697.0,997.2 L699.0,995.0 L701.0,992.7 L703.0,990.5 L705.0,988.3 L707.0,986.1 L709.0,984.0 L711.0,981.8 L713.0,979.6 L715.0,977.5 L717.0,975.4 L719.0,973.3 L721.0,971.2 L723.0,969.1 L725.0,967.0 L727.0,964.9 L729.0,962.8 L731.0,960.8 L733.0,958.7 L735.0,956.7 L737.0,954.6 L739.0,952.6 L741.0,950.5 L743.0,948.5 L745.0,946.4 L747.0,944.4 L749.0,942.4 L751.0,940.3 L753.0,938.3 L755.0,936.2 L757.0,934.2 L759.0,932.2 L761.0,930.1 L763.0,928.1 L765.0,926.0 L767.0,923.9 L769.0,921.9 L771.0,919.8 L773.0,917.7 L775.0,915.6 L777.0,913.5 L779.0,911.4 L781.0,909.3 L783.0,907.1 L785.0,905.0 L787.0,902.8 L789.0,900.7 L791.0,898.5 L793.0,896.3 L795.0,894.1 L797.0,891.8 L799.0,889.6 L801.0,887.3 L803.0,885.0 L805.0,882.7 L807.0,880.4 L809.0,878.1 L811.0,875.7 L813.0,873.4 L815.0,871.0 L817.0,868.6 L819.0,866.2 L821.0,863.9 L823.0,861.5 L825.0,859.1 L827.0,856.7 L829.0,854.3 L831.0,852.0 L833.0,849.7 L835.0,847.3 L837.0,845.0 L839.0,842.8 L841.0,840.5 L843.0,838.3 L845.0,836.1 L847.0,833.9 L849.0,831.8 L851.0,829.7 L853.0,827.6 L855.0,825.6 L857.0,823.7 L859.0,821.7 L861.0,819.9 L863.0,818.0 L865.0,816.3 L867.0,814.5 L869.0,812.9 L871.0,811.2 L873.0,809.7 L875.0,808.1 L877.0,806.7 L879.0,805.2 L881.0,803.9 L883.0,802.6 L885.0,801.3 L887.0,800.1 L889.0,798.9 L891.0,797.8 L893.0,796.8 L895.0,795.8 L897.0,794.9 L899.0,794.0 L901.0,793.2 L903.0,792.5 L905.0,791.8 L907.0,791.2 L909.0,790.6 L911.0,790.1 L913.0,789.7 L915.0,789.3 L917.0,789.0 L919.0,788.7 L921.0,788.5 L923.0,788.4 L925.0,788.4 L927.0,788.4 L929.0,788.5 L931.0,788.6 L933.0,788.8 L935.0,789.1 L937.0,789.4 L939.0,789.8 L941.0,790.2 L943.0,790.7 L945.0,791.2 L947.0,791.8 L949.0,792.5 L951.0,793.2 L953.0,793.9 L955.0,794.7 L957.0,795.6 L959.0,796.5 L961.0,797.4 L963.0,798.4 L965.0,799.4 L967.0,800.5 L969.0,801.6 L971.0,802.8 L973.0,803.9 L975.0,805.2 L977.0,806.4 L979.0,807.7 L981.0,809.1 L983.0,810.4 L985.0,811.8 L987.0,813.3 L989.0,814.7 L991.0,816.2 L993.0,817.7 L995.0,819.3 L997.0,820.9 L999.0,822.4 L1001.0,824.1 L1003.0,825.7 L1005.0,827.4 L1007.0,829.0 L1009.0,830.7 L1011.0,832.5 L1013.0,834.2 L1015.0,835.9 L1017.0,837.7 L1019.0,839.5 L1021.0,841.3 L1023.0,843.1 L1025.0,844.9 L1027.0,846.7 L1029.0,848.5 L1031.0,850.4 L1033.0,852.2 L1035.0,854.1 L1037.0,855.9 L1039.0,857.8 L1041.0,859.6 L1043.0,861.5 L1045.0,863.3 L1047.0,865.2 L1049.0,867.0 L1051.0,868.9 L1053.0,870.7 L1055.0,872.6 L1057.0,874.5 L1059.0,876.4 L1061.0,878.4 L1063.0,880.4 L1065.0,882.5 L1067.0,884.6 L1069.0,886.7 L1071.0,889.0 L1073.0,891.3 L1075.0,893.7 L1077.0,896.2 L1079.0,898.7 L1081.0,901.4 L1083.0,904.1 L1085.0,906.9 L1087.0,909.7 L1089.0,912.6 L1091.0,915.5 L1093.0,918.5 L1095.0,921.6 L1097.0,924.6 L1099.0,927.7 L1101.0,930.8 L1103.0,933.9 L1105.0,937.0 L1107.0,940.2 L1109.0,943.3 L1111.0,946.5 L1113.0,949.6 L1115.0,952.8 L1117.0,955.9 L1119.0,959.1 L1121.0,962.2 L1123.0,965.3 L1125.0,968.4 L1127.0,971.5 L1129.0,974.5 L1131.0,977.6 L1133.0,980.6 L1135.0,983.7 L1137.0,986.7 L1139.0,989.7 L1141.0,992.7 L1143.0,995.7 L1145.0,998.7 L1147.0,1001.8 L1149.0,1004.8 L1151.0,1007.8 L1153.0,1010.8 L1155.0,1013.9 L1157.0,1016.9 L1159.0,1019.9 L1161.0,1023.0 L1163.0,1026.1 L1165.0,1029.1 L1167.0,1032.2 L1169.0,1035.3 L1171.0,1038.4 L1173.0,1041.5 L1175.0,1044.6 L1177.0,1047.7 L1179.0,1050.7 L1181.0,1053.8 L1183.0,1056.9 L1185.0,1060.0 L1187.0,1063.1 L1189.0,1066.2 L1191.0,1069.3 L1193.0,1072.4 L1195.0,1075.5 L1197.0,1078.6 L1199.0,1081.7 L1201.0,1084.8 L1203.0,1087.8 L1205.0,1090.9 L1207.0,1094.0 L1209.0,1097.0 L1211.0,1100.1 L1213.0,1103.1 L1215.0,1106.1 L1217.0,1109.2 L1219.0,1112.2 L1221.0,1115.2 L1223.0,1118.2 L1225.0,1121.2 L1227.0,1124.2 L1229.0,1127.1 L1231.0,1130.1 L1233.0,1133.0 L1235.0,1135.9 L1237.0,1138.8 L1239.0,1141.7 L1241.0,1144.6 L1243.0,1147.5 L1245.0,1150.3 L1247.0,1153.2 L1249.0,1156.0 L1251.0,1158.8 L1253.0,1161.6 L1255.0,1164.3 L1257.0,1167.1 L1259.0,1169.8 L1261.0,1172.5 L1263.0,1175.2 L1265.0,1177.8 L1267.0,1180.5 L1269.0,1183.1 L1271.0,1185.7 L1273.0,1188.2 L1275.0,1190.8 L1277.0,1193.3 L1279.0,1195.8 L1281.0,1198.2 L1283.0,1200.6 L1285.0,1203.0 L1287.0,1205.3 L1289.0,1207.5 L1291.0,1209.7 L1293.0,1211.9 L1295.0,1214.0 L1297.0,1216.0 L1299.0,1218.0 L1301.0,1219.9 L1303.0,1221.8 L1305.0,1223.5 L1307.0,1225.2 L1309.0,1226.9 L1311.0,1228.4 L1313.0,1229.9 L1315.0,1231.2 L1317.0,1232.5 L1319.0,1233.7 L1321.0,1234.8 L1323.0,1235.8 L1325.0,1236.7 L1327.0,1237.5 L1329.0,1238.2 L1331.0,1238.8 L1333.0,1239.3 L1335.0,1239.7 L1337.0,1240.0 L1339.0,1240.2 L1341.0,1240.4 L1343.0,1240.5 L1345.0,1240.5 L1347.0,1240.4 L1349.0,1240.3 L1351.0,1240.1 L1353.0,1239.8 L1355.0,1239.5 L1357.0,1239.2 L1359.0,1238.8 L1361.0,1238.3 L1363.0,1237.8 L1365.0,1237.3 L1367.0,1236.7 L1369.0,1236.1 L1371.0,1235.5 L1373.0,1234.9 L1375.0,1234.2 L1377.0,1233.6 L1379.0,1232.9 L1381.0,1232.2 L1383.0,1231.5 L1385.0,1230.8 L1387.0,1230.1 L1389.0,1229.4 L1391.0,1228.7 L1393.0,1228.1 L1395.0,1227.4 L1397.0,1226.8 L1399.0,1226.2 L1401.0,1225.6 L1403.0,1225.1 L1405.0,1224.6 L1407.0,1224.1 L1409.0,1223.7 L1411.0,1223.3 L1413.0,1223.0 L1415.0,1222.7 L1417.0,1222.5 L1419.0,1222.3 L1421.0,1222.2 L1423.0,1222.1 L1425.0,1222.1 L1427.0,1222.2 L1429.0,1222.3 L1431.0,1222.5 L1433.0,1222.7 L1435.0,1223.0 L1437.0,1223.4 L1439.0,1223.8 L1441.0,1224.3 L1443.0,1224.9 L1445.0,1225.5 L1447.0,1226.3 L1449.0,1227.1 L1451.0,1227.9 L1453.0,1228.9 L1455.0,1229.9 L1457.0,1231.0 L1459.0,1232.2 L1461.0,1233.5 L1463.0,1234.9 L1465.0,1236.3 L1467.0,1237.9 L1469.0,1239.5 L1471.0,1241.2 L1473.0,1243.0 L1475.0,1244.8 L1477.0,1246.7 L1479.0,1248.7 L1481.0,1250.8 L1483.0,1252.9 L1485.0,1255.0 L1487.0,1257.2 L1489.0,1259.5 L1491.0,1261.8 L1493.0,1264.1 L1495.0,1266.4 L1497.0,1268.8 L1499.0,1271.2 L1501.0,1273.6 L1503.0,1276.0 L1505.0,1278.5 L1507.0,1280.9 L1509.0,1283.4 L1511.0,1285.8 L1513.0,1288.3 L1515.0,1290.7 L1517.0,1293.1 L1519.0,1295.5 L1521.0,1297.9 L1523.0,1300.2 L1525.0,1302.5 L1527.0,1304.8 L1529.0,1307.0 L1531.0,1309.2 L1533.0,1311.4 L1535.0,1313.5 L1537.0,1315.6 L1539.0,1317.6 L1541.0,1319.6 L1543.0,1321.5 L1545.0,1323.4 L1547.0,1325.2 L1549.0,1327.0 L1551.0,1328.8 L1553.0,1330.5 L1555.0,1332.1 L1557.0,1333.7 L1559.0,1335.3 L1561.0,1336.8 L1563.0,1338.2 L1565.0,1339.6 L1567.0,1340.9 L1569.0,1342.2 L1571.0,1343.4 L1573.0,1344.6 L1575.0,1345.7 L1577.0,1346.7 L1579.0,1347.7 L1581.0,1348.7 L1583.0,1349.5 L1585.0,1350.3 L1587.0,1351.1 L1589.0,1351.8 L1591.0,1352.5 L1593.0,1353.1 L1595.0,1353.6 L1597.0,1354.2 L1599.0,1354.7 L1601.0,1355.2 L1603.0,1355.6 L1605.0,1356.1 L1607.0,1356.5 L1609.0,1356.9 L1611.0,1357.4 L1613.0,1357.8 L1615.0,1358.2 L1617.0,1358.6 L1619.0,1359.1 L1621.0,1359.6 L1623.0,1360.1 L1625.0,1360.6 L1627.0,1361.1 L1629.0,1361.7 L1631.0,1362.3 L1633.0,1363.0 L1635.0,1363.7 L1637.0,1364.5 L1639.0,1365.3 L1641.0,1366.2 L1643.0,1367.2 L1645.0,1368.2 L1647.0,1369.3 L1649.0,1370.4 L1651.0,1371.6 L1653.0,1372.8 L1655.0,1374.0 L1657.0,1375.3 L1659.0,1376.7 L1661.0,1378.0 L1663.0,1379.4 L1665.0,1380.8 L1667.0,1382.2 L1669.0,1383.7 L1671.0,1385.1 L1673.0,1386.6 L1675.0,1388.1 L1677.0,1389.6 L1679.0,1391.1 L1681.0,1392.6 L1683.0,1394.0 L1685.0,1395.5 L1687.0,1397.0 L1689.0,1398.4 L1691.0,1399.8 L1693.0,1401.2 L1695.0,1402.6 L1697.0,1404.0 L1699.0,1405.3 L1701.0,1406.6 L1703.0,1407.9 L1705.0,1409.1 L1707.0,1410.2 L1709.0,1411.4 L1711.0,1412.4 L1713.0,1413.4 L1715.0,1414.4 L1717.0,1415.3 L1719.0,1416.1 L1721.0,1416.9 L1723.0,1417.6 L1725.0,1418.2 L1727.0,1418.7 L1729.0,1419.2 L1731.0,1419.6 L1733.0,1419.8 L1735.0,1420.0 L1737.0,1420.1 L1739.0,1420.1 L1741.0,1420.0 L1743.0,1419.8 L1745.0,1419.5 L1747.0,1419.1 L1749.0,1418.5 L1751.0,1417.9 L1753.0,1417.1 L1755.0,1416.2 L1757.0,1415.2 L1759.0,1414.0 L1761.0,1412.7 L1763.0,1411.3 L1765.0,1409.7 L1767.0,1408.0 L1769.0,1406.1 L1771.0,1404.1 L1773.0,1402.0 L1775.0,1399.8 L1777.0,1397.4 L1779.0,1395.0 L1781.0,1392.4 L1783.0,1389.7 L1785.0,1387.0 L1787.0,1384.1 L1789.0,1381.2 L1791.0,1378.2 L1793.0,1375.1 L1795.0,1372.0 L1797.0,1368.8 L1799.0,1365.5 L1801.0,1362.2 L1803.0,1358.8 L1805.0,1355.5 L1807.0,1352.0 L1809.0,1348.6 L1811.0,1345.1 L1813.0,1341.6 L1815.0,1338.1 L1817.0,1334.6 L1819.0,1331.1 L1821.0,1327.6 L1823.0,1324.1 L1825.0,1320.6 L1827.0,1317.1 L1829.0,1313.6 L1831.0,1310.2 L1833.0,1306.8 L1835.0,1303.4 L1837.0,1300.0 L1839.0,1296.7 L1841.0,1293.4 L1843.0,1290.1 L1845.0,1286.9 L1847.0,1283.7 L1849.0,1280.5 L1851.0,1277.4 L1853.0,1274.4 L1855.0,1271.4 L1857.0,1268.5 L1859.0,1265.6 L1861.0,1262.8 L1863.0,1260.0 L1865.0,1257.4 L1867.0,1254.8 L1869.0,1252.2 L1871.0,1249.8 L1873.0,1247.4 L1875.0,1245.1 L1877.0,1242.9 L1879.0,1240.7 L1881.0,1238.7 L1883.0,1236.8 L1885.0,1234.9 L1887.0,1233.1 L1889.0,1231.4 L1891.0,1229.8 L1893.0,1228.3 L1895.0,1226.9 L1897.0,1225.6 L1899.0,1224.3 L1901.0,1223.2 L1903.0,1222.1 L1905.0,1221.1 L1907.0,1220.2 L1909.0,1219.4 L1911.0,1218.7 L1913.0,1218.0 L1915.0,1217.5 L1917.0,1217.0 L1919.0,1216.7 L1921.0,1216.4 L1923.0,1216.2 L1925.0,1216.1 L1927.0,1216.1 L1929.0,1216.1 L1931.0,1216.3 L1933.0,1216.6 L1935.0,1216.9 L1937.0,1217.4 L1939.0,1217.9 L1941.0,1218.6 L1943.0,1219.3 L1945.0,1220.2 L1947.0,1221.2 L1949.0,1222.3 L1951.0,1223.5 L1953.0,1224.9 L1955.0,1226.3 L1957.0,1227.9 L1959.0,1229.6 L1961.0,1231.4 L1963.0,1233.3 L1965.0,1235.4 L1967.0,1237.6 L1969.0,1240.0 L1971.0,1242.5 L1973.0,1245.1 L1975.0,1247.8 L1977.0,1250.8 L1979.0,1253.8 L1981.0,1257.0 L1983.0,1260.4 L1985.0,1263.8 L1987.0,1267.4 L1989.0,1271.1 L1991.0,1274.9 L1993.0,1278.7 L1995.0,1282.5 L1997.0,1286.4 L1999.0,1290.3 L2001.0,1294.1 L2003.0,1297.9 L2005.0,1301.7 L2007.0,1305.4 L2009.0,1309.1 L2011.0,1312.6 L2013.0,1316.2 L2015.0,1319.6 L2017.0,1323.0 L2019.0,1326.3 L2021.0,1329.6 L2023.0,1332.8 L2025.0,1335.9 L2027.0,1338.9 L2029.0,1341.9 L2031.0,1344.8 L2033.0,1347.7 L2035.0,1350.4 L2037.0,1353.1 L2039.0,1355.8 L2041.0,1358.3 L2043.0,1360.8 L2045.0,1363.2 L2047.0,1365.5 L2049.0,1367.8 L2051.0,1369.9 L2053.0,1372.0 L2055.0,1374.1 L2057.0,1376.0 L2059.0,1377.9 L2061.0,1379.7 L2063.0,1381.4 L2065.0,1383.0 L2067.0,1384.5 L2069.0,1386.0 L2071.0,1387.4 L2073.0,1388.7 L2075.0,1389.9 L2077.0,1391.1 L2079.0,1392.1 L2081.0,1393.1 L2083.0,1394.1 L2085.0,1395.0 L2087.0,1395.8 L2089.0,1396.5 L2091.0,1397.2 L2093.0,1397.8 L2095.0,1398.3 L2097.0,1398.8 L2099.0,1399.2 L2101.0,1399.6 L2103.0,1399.9 L2105.0,1400.1 L2107.0,1400.4 L2109.0,1400.5 L2111.0,1400.6 L2113.0,1400.7 L2115.0,1400.7 L2117.0,1400.6 L2119.0,1400.5 L2121.0,1400.4 L2123.0,1400.2 L2125.0,1400.0 L2127.0,1399.8 L2129.0,1399.5 L2131.0,1399.1 L2133.0,1398.8 L2135.0,1398.4 L2137.0,1398.0 L2139.0,1397.5 L2141.0,1397.0 L2143.0,1396.5 L2145.0,1395.9 L2147.0,1395.4 L2149.0,1394.8 L2151.0,1394.2 L2153.0,1393.5 L2155.0,1392.9 L2157.0,1392.2 L2159.0,1391.5 L2161.0,1390.8 L2163.0,1390.1 L2165.0,1389.4 L2167.0,1388.7 L2169.0,1387.9 L2171.0,1387.2 L2173.0,1386.4 L2175.0,1385.6 L2177.0,1384.9 L2179.0,1384.1 L2181.0,1383.3 L2183.0,1382.5 L2185.0,1381.8 L2187.0,1381.0 L2189.0,1380.2 L2191.0,1379.5 L2193.0,1378.7 L2195.0,1378.0 L2197.0,1377.3 L2198.0,1376.9" fill="none" stroke="#000" stroke-width="8.6" stroke-linejoin="round"/>
<line x1="574.3" y1="153.5" x2="635.2" y2="166.4" stroke="#000" stroke-width="2.3"/><polygon points="656.6,171.0 619.0,172.4 622.8,154.4" fill="#000"/>
<line x1="1085.6" y1="156.8" x2="926.6" y2="128.3" stroke="#000" stroke-width="2.3"/><polygon points="905.0,124.4 942.6,121.8 939.3,139.9" fill="#000"/>
<line x1="499.3" y1="629.1" x2="624.4" y2="428.0" stroke="#000" stroke-width="2.3"/><polygon points="636.0,409.4 624.5,445.3 608.9,435.5" fill="#000"/>
<line x1="511.0" y1="743.0" x2="637.7" y2="934.1" stroke="#000" stroke-width="2.3"/><polygon points="649.8,952.4 622.0,927.1 637.3,916.9" fill="#000"/>
<line x1="750.4" y1="473.5" x2="834.3" y2="290.3" stroke="#000" stroke-width="2.3"/><polygon points="843.4,270.4 836.6,307.4 819.8,299.8" fill="#000"/>
<line x1="793.4" y1="616.2" x2="872.1" y2="743.4" stroke="#000" stroke-width="2.3"/><polygon points="883.6,762.0 856.6,735.8 872.2,726.1" fill="#000"/>
<line x1="1534.4" y1="882.7" x2="1445.3" y2="760.8" stroke="#000" stroke-width="2.3"/><polygon points="1432.4,743.1 1461.4,767.1 1446.5,778.0" fill="#000"/>
<line x1="1587.4" y1="1046.2" x2="1463.7" y2="1153.0" stroke="#000" stroke-width="2.3"/><polygon points="1447.1,1167.3 1468.7,1136.5 1480.7,1150.4" fill="#000"/>
<line x1="2067.4" y1="983.9" x2="1965.6" y2="819.4" stroke="#000" stroke-width="2.3"/><polygon points="1954.1,800.8 1981.1,827.0 1965.5,836.7" fill="#000"/>
<line x1="2004.1" y1="1118.4" x2="1973.0" y2="1164.1" stroke="#000" stroke-width="2.3"/><polygon points="1960.7,1182.2 1973.6,1146.8 1988.8,1157.2" fill="#000"/>
<text x="244.0" y="177.4" font-size="66.0" fill="#000" textLength="318.2" lengthAdjust="spacing">Quinoid-N</text>
<text x="1139.5" y="203.4" font-size="66.0" fill="#000" textLength="400.9" lengthAdjust="spacing">Benzenoid-N</text>
<text x="652.0" y="589.8" font-size="66.0" fill="#000" textLength="312.3" lengthAdjust="spacing">Pyrrolic-N</text>
<text x="238.5" y="690.4" font-size="66.0" fill="#000" textLength="342.5" lengthAdjust="spacing">Pyridinic-N</text>
<text x="1543.0" y="987.2" font-size="66.0" fill="#000" textLength="358.0" lengthAdjust="spacing">Graphitic-N</text>
<text x="2006.5" y="1076.6" font-size="66.0" fill="#000" textLength="145.3" lengthAdjust="spacing">Fe-N</text>
<text x="2046.5" y="555.3" font-size="67.0" fill="#800000" textLength="89.1" lengthAdjust="spacing">(a)</text>
<text x="2050.5" y="866.5" font-size="67.0" fill="#0000ff" textLength="93.7" lengthAdjust="spacing">(b)</text>
<text x="2080.0" y="1321.0" font-size="67.0" fill="#000" textLength="90.0" lengthAdjust="spacing">(c)</text>
<text x="963.0" y="1767.8" font-size="80.0" fill="#000" textLength="391.1" lengthAdjust="spacing">B.E. (MeV)</text>
<text transform="translate(100.4,1088.3) rotate(-90)" font-size="75.7" fill="#000" textLength="554.7" lengthAdjust="spacing">Intensity ( a. u.)</text>
</svg></body></html>
